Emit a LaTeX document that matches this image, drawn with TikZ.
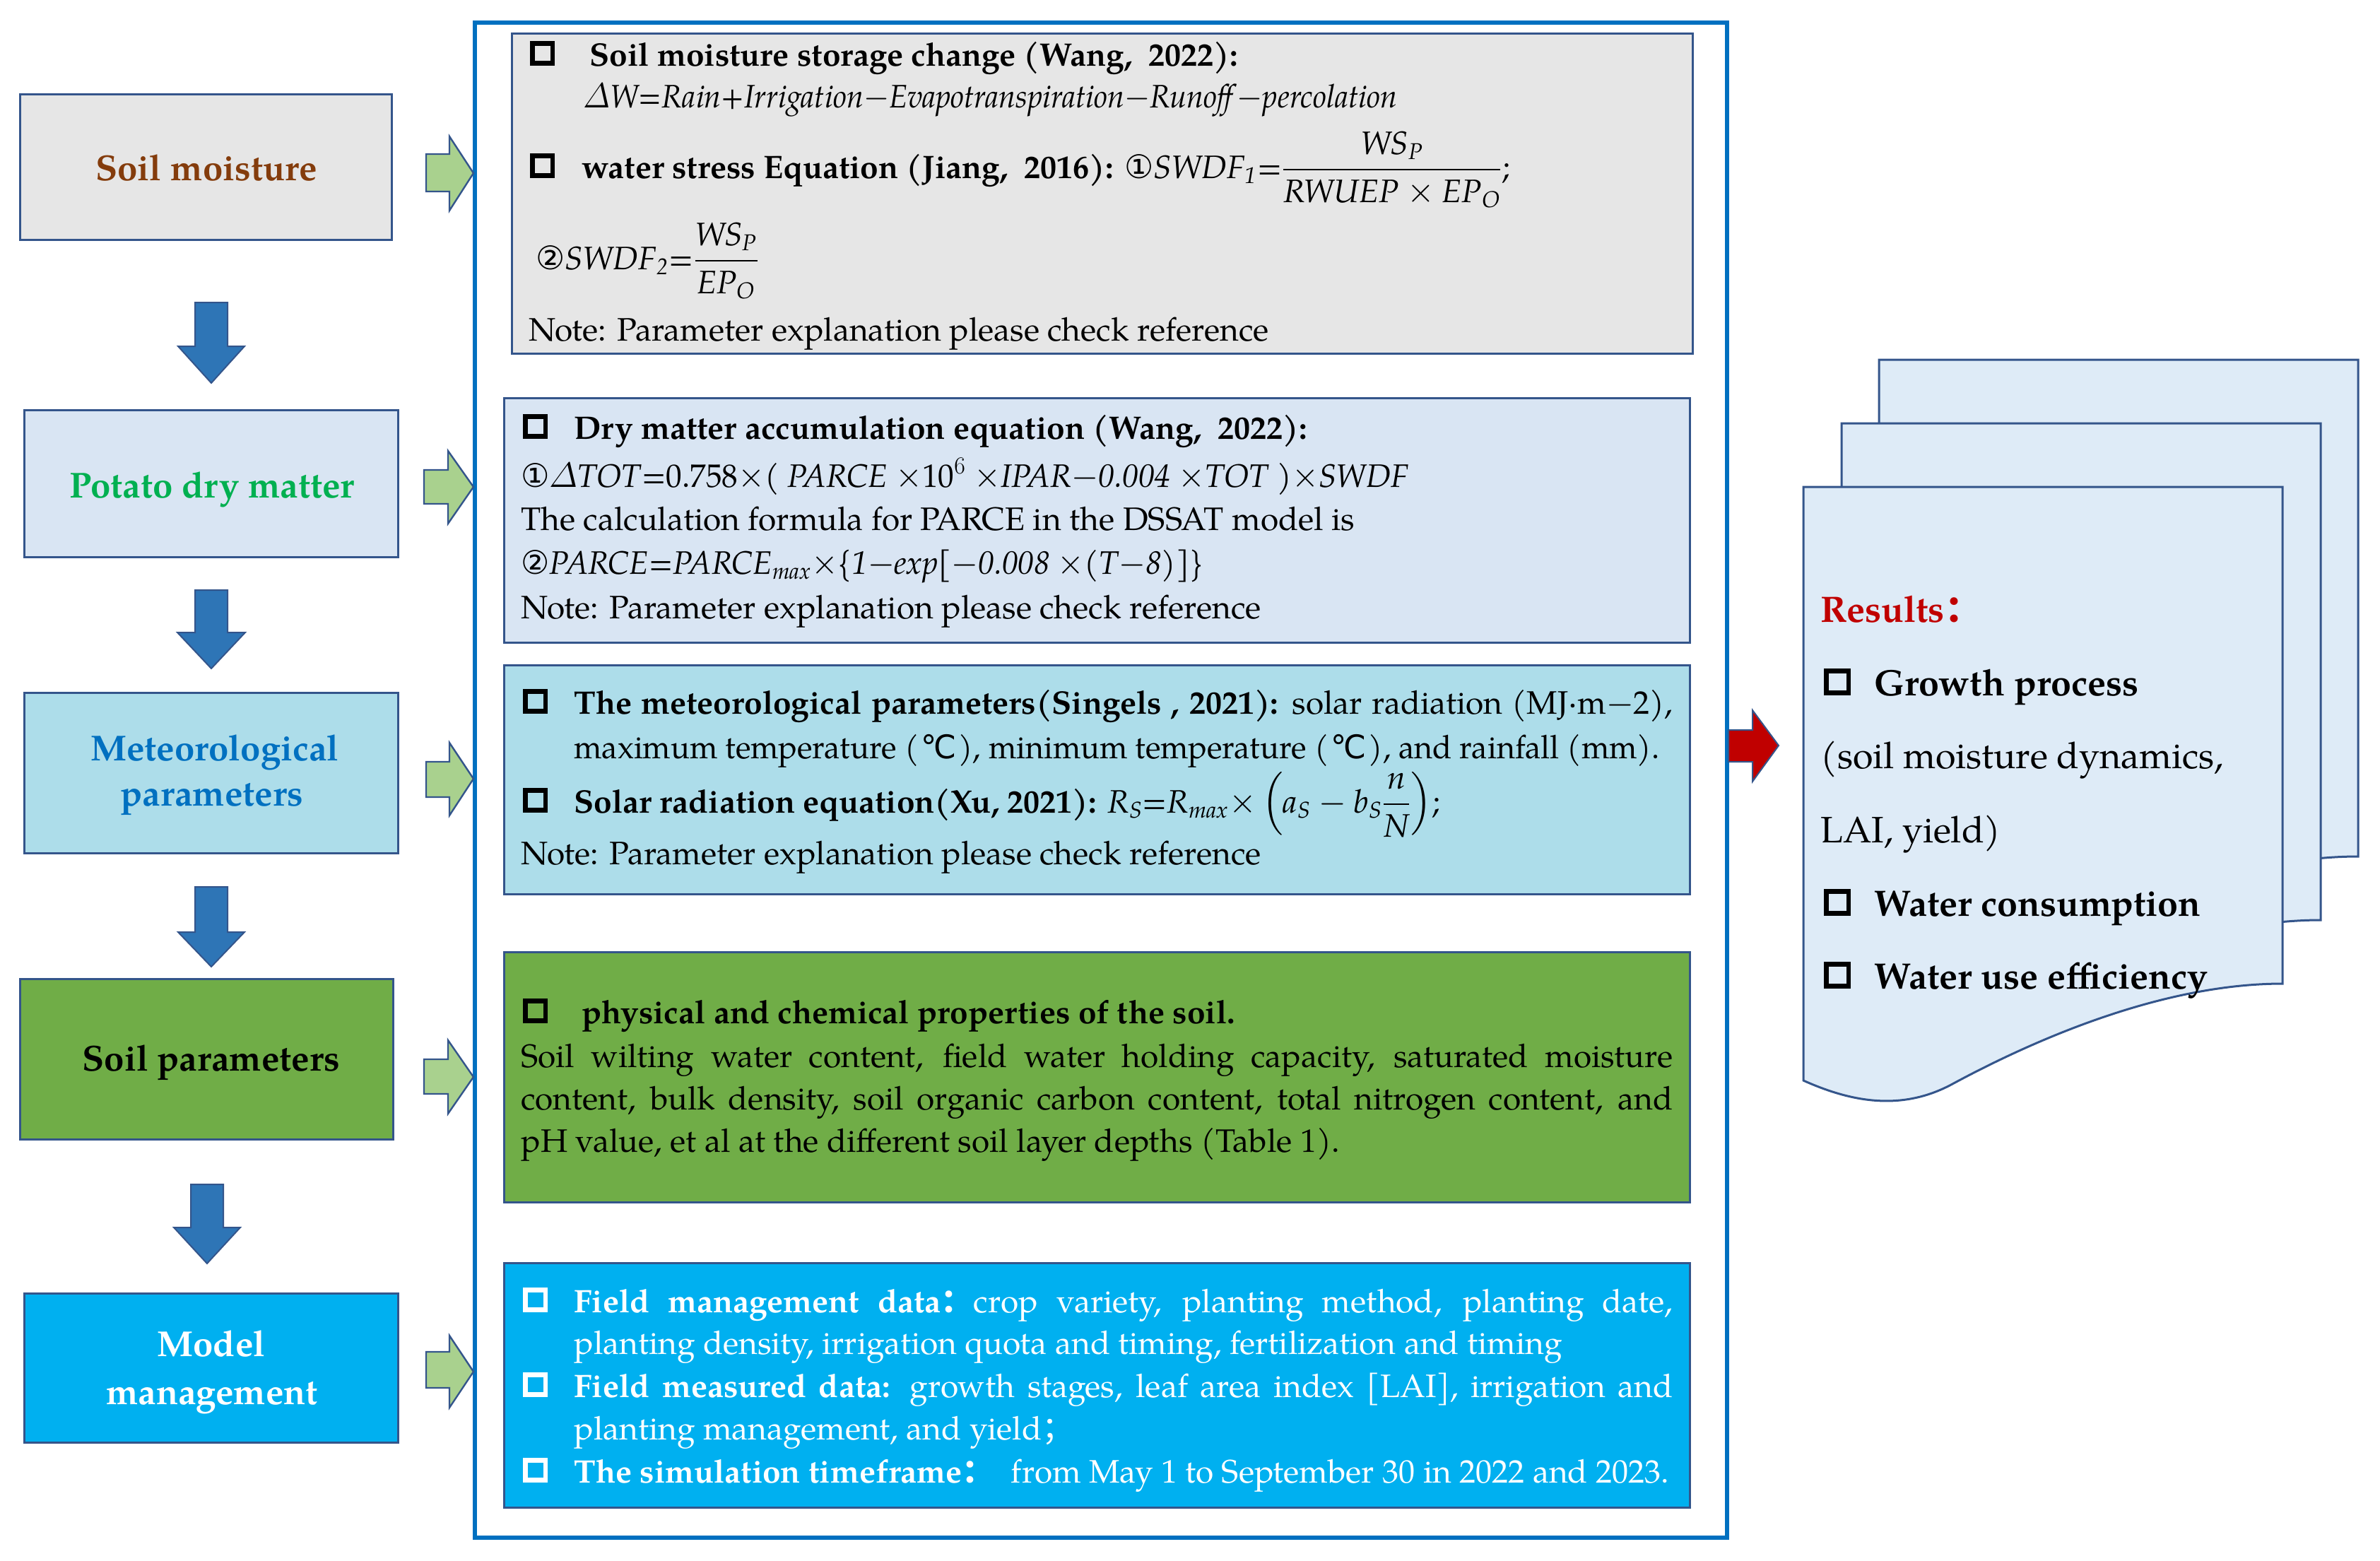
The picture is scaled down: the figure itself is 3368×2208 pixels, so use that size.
\documentclass[tikz,border=0pt]{standalone}
\usepackage{amsmath}
\usepackage{graphicx}
\usepackage{fontspec}
\setmainfont{TeX Gyre Pagella}
\newfontfamily\sym{DejaVu Sans}
\newfontfamily\cjk{Noto Sans CJK SC}
\usetikzlibrary{fit}
\definecolor{bordc}{HTML}{34558B}
\definecolor{framec}{HTML}{0070C0}
\definecolor{grayfill}{HTML}{E6E6E6}
\definecolor{bluefill}{HTML}{D9E5F3}
\definecolor{cyanfill}{HTML}{ADDDEA}
\definecolor{greenfill}{HTML}{70AD47}
\definecolor{skyfill}{HTML}{00B0F0}
\definecolor{arrblue}{HTML}{2E75B6}
\definecolor{arrgreen}{HTML}{A9D18E}
\definecolor{arrred}{HTML}{C00000}
\definecolor{docfill}{HTML}{DEEBF7}
\definecolor{brownt}{HTML}{843C0C}
\definecolor{greent}{HTML}{00B050}
\definecolor{bluet}{HTML}{0070C0}
\newcommand\cbox[1][17.5pt]{\raisebox{3.3pt}{\setlength{\fboxrule}{3.3pt}\setlength{\fboxsep}{0pt}\fbox{\rule{0pt}{\dimexpr#1-6.6pt}\hspace{\dimexpr#1-6.6pt}}}}
\newcommand\sub[1]{\ensuremath{_{\text{\itshape #1}}}}
\newcommand\ti[1]{\text{\itshape #1}}
\newcommand\degc{\kern1.5pt{\sym ℃}\kern1.5pt}
\newcommand\docpath{(0,0) -- (678,0) -- (678,703) .. controls (509,703) and (329,781) .. (209,846) .. controls (139,883) and (69,871) .. (0,840) -- cycle}
\begin{document}
\begin{tikzpicture}[x=0.5pt,y=-0.5pt,
  bord/.style={draw=bordc, line width=1.5pt},
  mbox/.style={bord, inner sep=0pt},
  txt/.style={anchor=base west, inner sep=0pt, font=\fontsize{23}{28}\selectfont},
  ltxt/.style={anchor=base, inner sep=0pt, font=\fontsize{25.5}{32}\selectfont\bfseries},
  rtxt/.style={anchor=base west, inner sep=0pt, font=\fontsize{26}{32}\selectfont},
  cb/.style={anchor=base west, inner sep=0pt},
  barrow/.style={fill=arrblue, draw=bordc, line width=1pt},
  garrow/.style={fill=arrgreen, draw=bordc, line width=1.2pt},
  doc/.style={fill=docfill, draw=bordc, line width=1.5pt}]
\useasboundingbox (0,0) rectangle (3368,2208);

% left column boxes
\node[mbox, fill=grayfill, fit={(28,133) (554,339)}] (l1) {};
\node[mbox, fill=bluefill, fit={(34,580) (563,788)}] (l2) {};
\node[mbox, fill=cyanfill, fit={(34,980) (563,1207)}] (l3) {};
\node[mbox, fill=greenfill, fit={(28,1385) (556,1612)}] (l4) {};
\node[mbox, fill=skyfill, fit={(34,1830) (563,2041)}] (l5) {};
\node[ltxt, text=brownt] (l1t) at (292,255) {Soil moisture};
\node[ltxt, text=greent] (l2t) at (300,704) {Potato dry matter};
\node[ltxt, text=bluet] (l3ta) at (304,1076) {Meteorological};
\node[ltxt, text=bluet] (l3tb) at (300,1140) {parameters};
\node[ltxt, text=black] (l4t) at (299,1515) {Soil parameters};
\node[ltxt, text=white] (l5ta) at (299,1919) {Model};
\node[ltxt, text=white] (l5tb) at (300,1987) {management};

% down arrows
\draw[barrow] (276,428) -- (322,428) -- (322,490) -- (346,490) -- (299,542) -- (252,490) -- (276,490) -- cycle;
\draw[barrow] (276,835) -- (322,835) -- (322,895) -- (347,895) -- (299,946) -- (251,895) -- (276,895) -- cycle;
\draw[barrow] (276,1255) -- (322,1255) -- (322,1319) -- (346,1319) -- (299,1368) -- (252,1319) -- (276,1319) -- cycle;
\draw[barrow] (270,1676) -- (316,1676) -- (316,1737) -- (340,1737) -- (293,1788) -- (246,1737) -- (270,1737) -- cycle;

% outer frame
\node[draw=framec, line width=3pt, inner sep=0pt, fit={(672,32) (2444,2176)}] (frame) {};

% green arrows
\draw[garrow] (603,218) -- (636,218) -- (636,193) -- (670,245) -- (636,298) -- (636,271) -- (603,271) -- cycle;
\draw[garrow] (600,665) -- (634,665) -- (634,638) -- (670,689) -- (634,741) -- (634,713) -- (600,713) -- cycle;
\draw[garrow] (603,1078) -- (636,1078) -- (636,1051) -- (670,1102) -- (636,1154) -- (636,1128) -- (603,1128) -- cycle;
\draw[garrow] (600,1499) -- (634,1499) -- (634,1472) -- (670,1524) -- (634,1576) -- (634,1548) -- (600,1548) -- cycle;
\draw[garrow] (603,1913) -- (636,1913) -- (636,1890) -- (670,1941) -- (636,1992) -- (636,1964) -- (603,1964) -- cycle;

% middle boxes
\node[mbox, fill=grayfill, fit={(724,47) (2395,500)}] (b1) {};
\node[mbox, fill=bluefill, fit={(713,563) (2391,909)}] (b2) {};
\node[mbox, fill=cyanfill, fit={(713,941) (2391,1265)}] (b3) {};
\node[mbox, fill=greenfill, fit={(713,1347) (2391,1701)}] (b4) {};
\node[mbox, fill=skyfill, fit={(713,1787) (2391,2133)}] (b5) {};

% box 1
\node[cb] (b1c1) at (750,93) {\cbox};
\node[txt] (b1t1) at (834,93) {\textbf{Soil moisture storage change (Wang,\ \ 2022):}};
\node[txt] (b1t2) at (825,152) {\resizebox{576pt}{\height}{$\varDelta$\textit{W=Rain+Irrigation}$-$\textit{Evapotranspiration}$-$\textit{Runoff}$-$\textit{percolation}}};
\node[cb] (b1c2) at (750,252) {\cbox};
\node[txt] (b1t3) at (823,252) {\textbf{water stress Equation (Jiang,\ \ 2016):} {\sym ①}\textit{SWDF}\sub{1}=$\dfrac{\ti{WS}_{\ti{P}}}{\ti{RWUEP}\times\ti{EP}_{\ti{O}}}$;};
\node[txt] (b1t4) at (758,381) {{\sym ②}\textit{SWDF}\sub{2}=$\dfrac{\ti{WS}_{\ti{P}}}{\ti{EP}_{\ti{O}}}$};
\node[txt] (b1t5) at (748,482) {Note: Parameter explanation please check reference};

% box 2
\node[cb] (b2c1) at (740,621) {\cbox};
\node[txt] (b2t1) at (812,621) {\textbf{Dry matter accumulation equation (Wang,\ \ 2022):}};
\node[txt] (b2t2) at (737,689) {\resizebox{628pt}{\height}{{\sym ①}$\varDelta$\textit{TOT}=0.758$\times$( \textit{PARCE} $\times$10$^{6}$ $\times$\textit{IPAR}$-$\textit{0.004} $\times$\textit{TOT} )$\times$\textit{SWDF}}};
\node[txt] (b2t3) at (737,750) {The calculation formula for PARCE in the DSSAT model is};
\node[txt] (b2t4) at (737,812) {\resizebox{483pt}{\height}{{\sym ②}\textit{PARCE=PARCE}\sub{max}$\times$\{\textit{1}$-$\textit{exp}[$-$\textit{0.008} $\times$(\textit{T}$-$\textit{8})]\}}};
\node[txt] (b2t5) at (737,875) {Note: Parameter explanation please check reference};

% box 3
\node[cb] (b3c1) at (740,1010) {\cbox};
\node[txt] (b3t1) at (812,1010) {\makebox[777.5pt][s]{\textbf{The meteorological parameters(Singels , 2021):} solar radiation (MJ·m$-$2),}};
\node[txt] (b3t2) at (812,1073) {\resizebox{768pt}{\height}{maximum temperature (\degc), minimum temperature (\degc), and rainfall (mm).}};
\node[cb] (b3c2) at (740,1150) {\cbox};
\node[txt] (b3t3) at (812,1150) {\textbf{Solar radiation equation(Xu, 2021):} \textit{R}\sub{S}=\textit{R}\sub{max}$\times\left(\ti{a}_{\ti{S}}-\ti{b}_{\ti{S}}\dfrac{\ti{n}}{\ti{N}}\right)$;};
\node[txt] (b3t4) at (737,1223) {Note: Parameter explanation please check reference};

% box 4
\node[cb] (b4c1) at (740,1448) {\cbox};
\node[txt] (b4t1) at (823,1448) {\textbf{physical and chemical properties of the soil.}};
\node[txt] (b4t2) at (737,1510) {\makebox[815pt][s]{Soil wilting water content, field water holding capacity, saturated moisture}};
\node[txt] (b4t3) at (737,1570) {\makebox[815pt][s]{content, bulk density, soil organic carbon content, total nitrogen content, and}};
\node[txt] (b4t4) at (737,1630) {pH value, et al at the different soil layer depths (Table 1).};

% box 5
\node[cb, text=white] (b5c1) at (740,1857) {\cbox};
\node[txt, text=white] (b5t1) at (812,1857) {\makebox[777.5pt][s]{\textbf{Field management data{\cjk ：}}crop variety, planting method, planting date,}};
\node[txt, text=white] (b5t2) at (812,1916) {planting density, irrigation quota and timing, fertilization and timing};
\node[cb, text=white] (b5c2) at (740,1977) {\cbox};
\node[txt, text=white] (b5t3) at (812,1977) {\makebox[777.5pt][s]{\textbf{Field measured data:} growth stages, leaf area index [LAI], irrigation and}};
\node[txt, text=white] (b5t4) at (812,2037) {planting management, and yield{\cjk ；}};
\node[cb, text=white] (b5c3) at (740,2098) {\cbox};
\node[txt, text=white] (b5t5) at (812,2098) {\textbf{The simulation timeframe{\cjk ：}}\ \ from May 1 to September 30 in 2022 and 2023.};

% red arrow
\draw[fill=arrred, draw=bordc, line width=1pt] (2446,1033) -- (2480,1033) -- (2480,1005) -- (2517,1055) -- (2480,1106) -- (2480,1078) -- (2446,1078) -- cycle;

% results documents
\draw[doc, shift={(2659,509)}] \docpath;
\draw[doc, shift={(2606,599)}] \docpath;
\draw[doc, shift={(2552,689)}] \docpath;
\node[rtxt, text=arrred] (r0) at (2576,880) {\textbf{Results{\cjk ：}}};
\node[cb] (rc1) at (2581,984) {\cbox[19pt]};
\node[rtxt] (r1) at (2652,984) {\textbf{Growth process}};
\node[rtxt] (r2) at (2576,1087) {(soil moisture dynamics,};
\node[rtxt] (r3) at (2576,1192) {LAI, yield)};
\node[cb] (rc2) at (2581,1296) {\cbox[19pt]};
\node[rtxt] (r4) at (2652,1296) {\textbf{Water consumption}};
\node[cb] (rc3) at (2581,1399) {\cbox[19pt]};
\node[rtxt] (r5) at (2652,1399) {\textbf{Water use efficiency}};
\end{tikzpicture}
\end{document}
